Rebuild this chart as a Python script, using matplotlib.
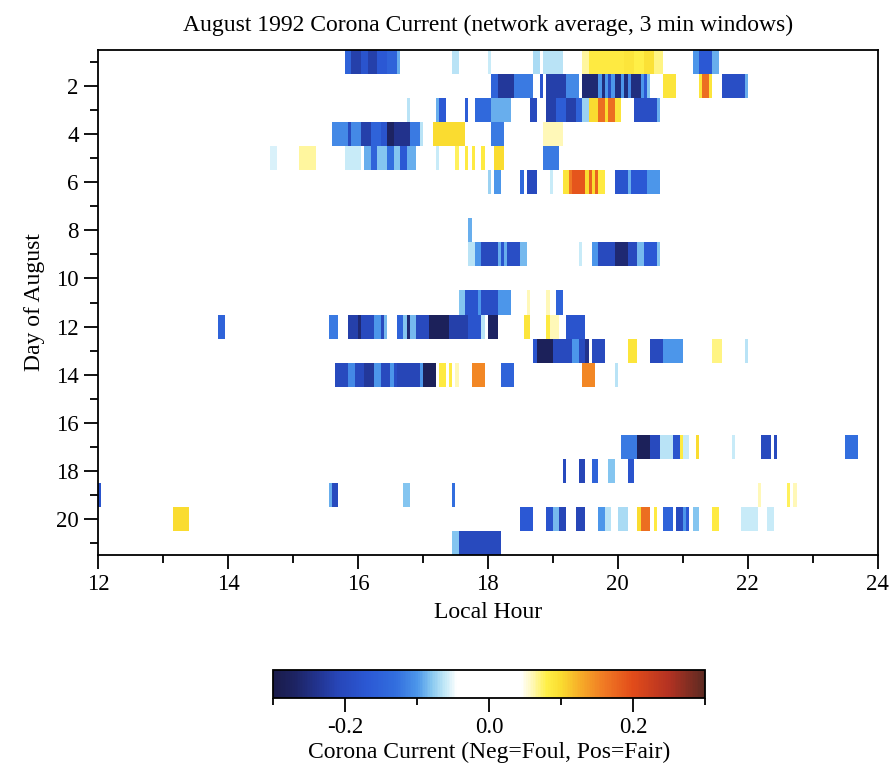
import numpy as np
import matplotlib
matplotlib.use("Agg")
import matplotlib.pyplot as plt
from matplotlib.colors import LinearSegmentedColormap
from matplotlib.ticker import MultipleLocator, FixedLocator

plt.rcParams['font.family'] = ['Liberation Serif', 'DejaVu Serif']
plt.rcParams['axes.unicode_minus'] = False

# ---- data: (start hour, end hour, corona current) per day of August 1992 ----
aug01 = [(15.80, 15.90, -0.15), (15.90, 16.05, -0.22), (16.05, 16.15, -0.18), (16.15, 16.30, -0.22),
         (16.30, 16.45, -0.17), (16.45, 16.60, -0.15), (16.60, 16.65, -0.09),
         (17.45, 17.55, -0.065), (18.00, 18.05, -0.06), (18.70, 18.80, -0.07), (18.85, 19.15, -0.065),
         (19.45, 19.55, 0.065), (19.55, 20.10, 0.085), (20.10, 20.25, 0.09), (20.25, 20.40, 0.08),
         (20.40, 20.55, 0.095), (20.55, 20.70, 0.07),
         (21.15, 21.25, -0.10), (21.25, 21.45, -0.17), (21.45, 21.55, -0.09)]
aug02 = [(18.05, 18.15, -0.15), (18.15, 18.40, -0.23), (18.40, 18.70, -0.12), (18.80, 18.85, -0.18),
         (18.90, 19.20, -0.22), (19.20, 19.40, -0.11), (19.45, 19.70, -0.26), (19.70, 19.75, -0.10),
         (19.75, 19.80, -0.25), (19.80, 19.85, -0.10), (19.85, 19.90, -0.20), (19.90, 19.95, -0.10),
         (19.95, 20.05, -0.25), (20.05, 20.10, -0.10), (20.10, 20.15, -0.25), (20.15, 20.20, -0.11),
         (20.20, 20.35, -0.25), (20.35, 20.40, -0.10), (20.40, 20.45, -0.17), (20.45, 20.50, -0.08),
         (20.70, 20.90, 0.09), (21.25, 21.30, 0.09), (21.30, 21.40, 0.17), (21.40, 21.45, 0.09),
         (21.60, 21.95, -0.19), (21.95, 22.00, -0.09)]
aug03 = [(16.75, 16.80, -0.065), (17.20, 17.25, -0.09), (17.25, 17.35, -0.17), (17.65, 17.70, -0.16),
         (17.80, 18.05, -0.14), (18.05, 18.35, -0.09), (18.65, 18.75, -0.20), (18.90, 19.05, -0.22),
         (19.05, 19.20, -0.16), (19.20, 19.35, -0.22), (19.35, 19.45, -0.15), (19.45, 19.55, -0.075),
         (19.55, 19.70, 0.10), (19.70, 19.80, 0.17), (19.80, 19.85, 0.10), (19.85, 19.95, 0.17),
         (19.95, 20.05, 0.09), (20.25, 20.60, -0.19), (20.60, 20.65, -0.09)]
aug04 = [(15.60, 15.85, -0.11), (15.85, 15.90, -0.20), (15.90, 16.05, -0.11), (16.05, 16.20, -0.22),
         (16.20, 16.35, -0.15), (16.35, 16.45, -0.18), (16.45, 16.55, -0.27), (16.55, 16.80, -0.24),
         (16.80, 16.95, -0.12), (16.95, 17.00, -0.065), (17.15, 17.65, 0.10), (18.05, 18.25, -0.12),
         (18.85, 19.15, 0.06)]
aug05 = [(14.65, 14.75, -0.055), (15.10, 15.35, 0.065), (15.80, 16.05, -0.06), (16.10, 16.20, -0.09),
         (16.20, 16.30, -0.15), (16.30, 16.45, -0.08), (16.45, 16.55, -0.13), (16.55, 16.65, -0.08),
         (16.65, 16.75, -0.17), (16.75, 16.90, -0.09), (17.20, 17.25, -0.06), (17.50, 17.55, 0.075),
         (17.65, 17.70, 0.085), (17.75, 17.80, 0.085), (17.90, 17.95, 0.085), (18.10, 18.25, 0.10),
         (18.85, 19.10, -0.12)]
aug06 = [(18.00, 18.05, -0.075), (18.10, 18.20, -0.10), (18.50, 18.55, -0.14), (18.60, 18.75, -0.20),
         (18.95, 19.00, -0.06), (19.15, 19.25, 0.09), (19.25, 19.30, 0.16), (19.30, 19.50, 0.19),
         (19.50, 19.55, 0.10), (19.55, 19.60, 0.18), (19.60, 19.65, 0.10), (19.65, 19.70, 0.18),
         (19.70, 19.80, 0.085), (19.95, 20.15, -0.18), (20.15, 20.20, -0.09), (20.20, 20.45, -0.17),
         (20.45, 20.65, -0.10)]
aug07 = []
aug08 = [(17.70, 17.75, -0.09)]
aug09 = [(17.70, 17.80, -0.065), (17.80, 17.90, -0.10), (17.90, 18.15, -0.20), (18.15, 18.20, -0.09),
         (18.20, 18.25, -0.18), (18.25, 18.30, -0.09), (18.30, 18.50, -0.19), (18.50, 18.60, -0.085),
         (19.40, 19.45, -0.06), (19.60, 19.70, -0.10), (19.70, 19.95, -0.20), (19.95, 20.15, -0.26),
         (20.15, 20.30, -0.20), (20.30, 20.40, -0.085), (20.40, 20.60, -0.17), (20.60, 20.65, -0.08)]
aug10 = []
aug11 = [(17.55, 17.65, -0.08), (17.65, 17.85, -0.18), (17.85, 17.90, -0.10), (17.90, 18.15, -0.19),
         (18.15, 18.35, -0.10), (18.60, 18.65, 0.06), (18.90, 18.95, 0.06), (19.05, 19.15, -0.15)]
aug12 = [(13.85, 13.95, -0.15), (15.55, 15.70, -0.12), (15.85, 16.00, -0.22), (16.00, 16.05, -0.26),
         (16.05, 16.25, -0.20), (16.25, 16.35, -0.10), (16.35, 16.40, -0.20), (16.40, 16.45, -0.085),
         (16.60, 16.70, -0.15), (16.70, 16.75, -0.08), (16.75, 16.80, -0.26), (16.80, 16.90, -0.085),
         (16.90, 17.10, -0.20), (17.10, 17.40, -0.28), (17.40, 17.70, -0.22), (17.70, 17.90, -0.18),
         (17.90, 17.95, -0.065), (18.00, 18.15, -0.27), (18.55, 18.65, 0.09), (18.90, 18.95, 0.085),
         (18.95, 19.10, 0.06), (19.20, 19.50, -0.18)]
aug13 = [(18.70, 18.75, -0.18), (18.75, 19.00, -0.28), (19.00, 19.30, -0.20), (19.30, 19.40, -0.10),
         (19.40, 19.50, -0.20), (19.50, 19.55, -0.24), (19.60, 19.80, -0.20), (20.15, 20.30, 0.09),
         (20.50, 20.70, -0.20), (20.70, 21.00, -0.10), (21.45, 21.60, 0.07), (21.95, 22.00, -0.065)]
aug14 = [(15.65, 15.85, -0.20), (15.85, 15.95, -0.11), (15.95, 16.10, -0.20), (16.10, 16.25, -0.23),
         (16.25, 16.35, -0.10), (16.35, 16.50, -0.20), (16.50, 16.55, -0.10), (16.55, 16.60, -0.19),
         (16.60, 16.95, -0.21), (16.95, 17.00, -0.10), (17.00, 17.20, -0.28), (17.25, 17.35, 0.085),
         (17.40, 17.45, 0.085), (17.50, 17.55, 0.06), (17.75, 17.95, 0.15), (18.20, 18.40, -0.15),
         (19.45, 19.65, 0.15), (19.95, 20.00, -0.065)]
aug15 = []
aug16 = []
aug17 = [(20.05, 20.30, -0.12), (20.30, 20.50, -0.28), (20.50, 20.65, -0.20), (20.65, 20.85, -0.065),
         (20.85, 20.95, -0.18), (20.95, 21.00, 0.085), (21.00, 21.10, -0.06), (21.20, 21.25, 0.10),
         (21.75, 21.80, -0.06), (22.20, 22.35, -0.20), (22.40, 22.45, -0.20), (23.50, 23.70, -0.13)]
aug18 = [(19.15, 19.20, -0.20), (19.40, 19.50, -0.21), (19.60, 19.70, -0.15), (19.85, 19.95, -0.08),
         (20.15, 20.25, -0.18)]
aug19 = [(12.00, 12.05, -0.18), (15.55, 15.60, -0.09), (15.60, 15.70, -0.20), (16.70, 16.80, -0.08),
         (17.45, 17.50, -0.13), (22.15, 22.20, 0.06), (22.60, 22.65, 0.075), (22.70, 22.75, 0.06)]
aug20 = [(13.15, 13.40, 0.10), (18.50, 18.70, -0.17), (18.90, 19.00, -0.18), (19.00, 19.10, -0.085),
         (19.10, 19.20, -0.21), (19.35, 19.50, -0.21), (19.70, 19.80, -0.10), (19.80, 19.90, -0.065),
         (20.00, 20.15, -0.07), (20.30, 20.35, 0.10), (20.35, 20.50, 0.17), (20.55, 20.60, 0.085),
         (20.70, 20.85, -0.15), (20.90, 21.00, -0.20), (21.00, 21.05, -0.10), (21.05, 21.10, -0.17),
         (21.15, 21.25, -0.08), (21.45, 21.55, 0.085), (21.90, 22.15, -0.06), (22.30, 22.40, -0.06)]
aug21 = [(17.45, 17.55, -0.08), (17.55, 18.20, -0.20)]

days_segments = [aug01, aug02, aug03, aug04, aug05, aug06, aug07, aug08, aug09, aug10, aug11,
                 aug12, aug13, aug14, aug15, aug16, aug17, aug18, aug19, aug20, aug21]

hour_start, hour_end, window_h = 12.0, 24.0, 0.05   # 3 minute windows
n_win = int(round((hour_end - hour_start) / window_h))
x_edges = hour_start + np.arange(n_win + 1) * window_h
centers = hour_start + (np.arange(n_win) + 0.5) * window_h
n_days = len(days_segments)
y_edges = np.arange(n_days + 1) + 0.5

grid = np.zeros((n_days, n_win))
for d, segs in enumerate(days_segments):
    for s, e, v in segs:
        grid[d, (centers >= s) & (centers < e)] = v

# ---- colormap ----
anchors = [(-0.30, '#1a1b4a'), (-0.27, '#1d2464'), (-0.24, '#22338e'), (-0.21, '#2746b8'),
           (-0.17, '#2b58d4'), (-0.13, '#326ede'), (-0.10, '#4c96ea'), (-0.08, '#88c8f0'),
           (-0.06, '#c8ebf8'), (-0.045, '#ffffff'), (0.045, '#ffffff'), (0.06, '#fff8b8'),
           (0.08, '#fff048'), (0.10, '#fadc30'), (0.13, '#f6a828'), (0.16, '#f07a24'),
           (0.20, '#e24c1a'), (0.25, '#b43222'), (0.30, '#5c2a22')]
vmin, vmax = -0.3, 0.3
cmap = LinearSegmentedColormap.from_list(
    'corona', [((v - vmin) / (vmax - vmin), c) for v, c in anchors])

fig = plt.figure(figsize=(8.93, 7.73), dpi=100)
ax = fig.add_axes([0.1097, 0.282, 0.8733, 0.6533])
mesh = ax.pcolormesh(x_edges, y_edges, grid, cmap=cmap, vmin=vmin, vmax=vmax, shading='flat')
ax.set_xlim(12, 24)
ax.set_ylim(21.5, 0.5)
ax.xaxis.set_major_locator(MultipleLocator(2))
ax.xaxis.set_minor_locator(MultipleLocator(1))
ax.yaxis.set_major_locator(MultipleLocator(2))
ax.yaxis.set_minor_locator(FixedLocator(np.arange(1, 22, 2)))
ax.tick_params(which='major', direction='out', length=10, width=1.3, labelsize=16.5,
               top=False, right=False, pad=4)
ax.tick_params(which='minor', direction='out', length=6, width=1.3, top=False, right=False)
for sp in ax.spines.values():
    sp.set_linewidth(1.3)
ax.set_xlabel('Local Hour', fontsize=17, labelpad=5)
ax.set_ylabel('Day of August', fontsize=17, labelpad=8)
ax.set_title('August 1992 Corona Current (network average, 3 min windows)', fontsize=17, pad=14)

cax = fig.add_axes([0.3057, 0.097, 0.4838, 0.0362])
cb = fig.colorbar(mesh, cax=cax, orientation='horizontal')
cb.set_ticks([-0.2, 0.0, 0.2])
cb.set_ticklabels(['-0.2', '0.0', '0.2'])
cax.xaxis.set_minor_locator(FixedLocator([-0.3, -0.1, 0.1, 0.3]))
cax.tick_params(which='major', direction='out', length=10, width=1.3, labelsize=16.5)
cax.tick_params(which='minor', direction='out', length=5, width=1.3)
cb.outline.set_linewidth(1.3)
cb.set_label('Corona Current (Neg=Foul, Pos=Fair)', fontsize=17, labelpad=3)

fig.savefig('out.png', dpi=100)
